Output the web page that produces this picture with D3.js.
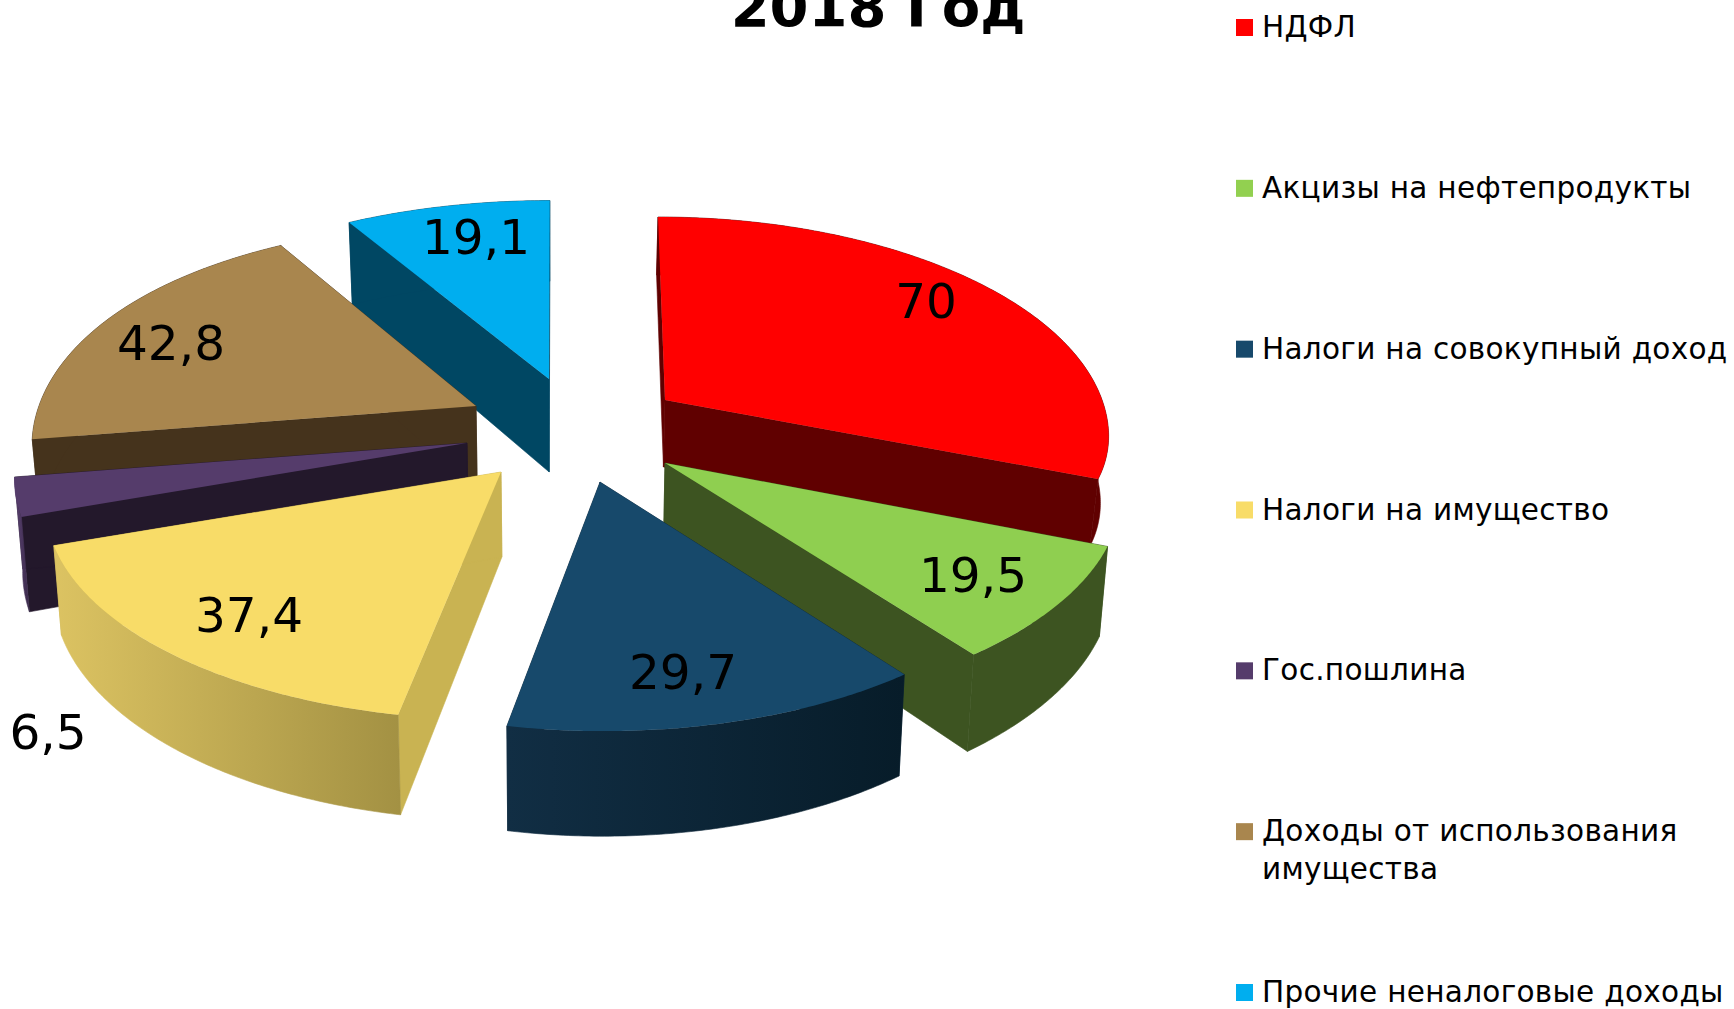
<!DOCTYPE html>
<html><head><meta charset="utf-8">
<style>html,body{margin:0;padding:0;background:#fff;overflow:hidden}svg{display:block}text{font-family:"DejaVu Sans",sans-serif;fill:#000}</style>
<script src="https://cdn.jsdelivr.net/npm/d3@7/dist/d3.min.js"></script>
</head><body>
<svg id="c" width="1734" height="1009"></svg>
<script>
const categories = ["НДФЛ","Акцизы на нефтепродукты","Налоги на совокупный доход","Налоги на имущество","Гос.пошлина","Доходы от использования имущества","Прочие неналоговые доходы"];
const values = [70,19.5,29.7,37.4,6.5,42.8,19.1];
const valueLabels = ["70","19,5","29,7","37,4","6,5","42,8","19,1"];
const titleText = "2018 Год";

// styles
const topColors  = ["#ff0000","#8fcf50","#17496b","#f8dc68","#553c6b","#a9864e","#00aeef"];
const wallColors = ["#600000","#3d5421","#0d2a3e","#c9b352","#23182b","#45331c","#004763"];
const legendColors = ["#ff0000","#92d050","#17496b","#f8dc68","#553c6b","#a9864e","#00aeef"];
const arcGradients = {2:["#112e44","#071c29"], 3:["#dcc362","#a39143"], 4:["#5b4272","#3a2a4a"]};

// layout: exploded apex of every slice, per-slice perspective corrections, and label anchors
const apexX = [665,665,600,501,467,476,549];
const apexY = [400,463,482,472,443,406,379];
const scaleX = [0.98,0.987,0.99,1,1,1,1];
const squeezeX = [0,-0.02,0,-0.007,0,0.02,-0.012];
const scaleY = [1,0.995,1,0.995,1,1,0.975];
const depth = [67,85,89,85,90,85,93];
const backSlice = [true,false,false,false,false,true,false];
const labelX = [926,973,683,249,48,171,476];
const labelY = [301,575,672,615,732,343,237];
const drawOrder = [6,0,5,4,3,1,2];
const R = 446, RY = 211, PERSP = 0.153, VANISH_X = 560, FOCUS = 0.5;

const svg = d3.select("#c");
const defs = svg.append("defs");
Object.entries(arcGradients).forEach(([i,g])=>{
  const lg = defs.append("linearGradient").attr("id","arc"+i).attr("x1",0).attr("x2",1).attr("y1",0).attr("y2",0);
  lg.append("stop").attr("offset",0).attr("stop-color",g[0]);
  lg.append("stop").attr("offset",1).attr("stop-color",g[1]);
});

const pie = d3.pie().sort(null).value(d=>d);
const arcs = pie(values);
const line = d3.line();

function project(i,theta,r,bottom){
  const t = -Math.cos(theta)*r;
  const s = 1/(1-PERSP*t);
  const sy = backSlice[i] ? Math.min(s,1) : s;
  const sn = Math.sin(theta);
  const squeeze = scaleX[i]*(1 - squeezeX[i]*Math.pow(sn,4));
  let x = apexX[i] + R*r*sn*s*squeeze + FOCUS*(apexX[i]-VANISH_X)*(s-1);
  let y = apexY[i] - RY*scaleY[i]*r*Math.cos(theta)*sy;
  if(bottom){
    x += (VANISH_X-x)*0.015;
    y += depth[i]*sy;
  }
  return [x,y];
}
function arcPts(i,d,bottom){
  const n = Math.max(8,Math.ceil((d.endAngle-d.startAngle)/0.01));
  return d3.range(n+1).map(k=>project(i,d.startAngle+(d.endAngle-d.startAngle)*k/n,1,bottom));
}

drawOrder.forEach(i=>{
  const d = arcs[i], g = svg.append("g");
  [d.startAngle,d.endAngle].forEach(a=>{
    g.append("path").attr("fill",wallColors[i]).attr("stroke",wallColors[i]).attr("stroke-width",0.6)
      .attr("d",line([project(i,a,0,false),project(i,a,1,false),project(i,a,1,true),project(i,a,0,true)])+"Z");
  });
  const arcFill = arcGradients[i]?`url(#arc${i})`:wallColors[i];
  g.append("path").attr("fill",arcFill).attr("stroke",arcFill).attr("stroke-width",0.6)
    .attr("d",line(arcPts(i,d,false).concat(arcPts(i,d,true).reverse()))+"Z");
  g.append("path").attr("fill",topColors[i])
    .attr("d",line([project(i,0,0,false)].concat(arcPts(i,d,false)))+"Z");
});

svg.selectAll("text.val").data(valueLabels).join("text").attr("class","val")
  .attr("x",(d,i)=>labelX[i]).attr("y",(d,i)=>labelY[i])
  .attr("text-anchor","middle").attr("dominant-baseline","central")
  .attr("font-size",48.5).text(d=>d);

svg.append("text").attr("x",878).attr("y",26).attr("text-anchor","middle")
  .attr("font-size",56).attr("font-weight","bold").text(titleText);

const legendY = d3.scalePoint().domain(d3.range(categories.length)).range([27.5,992.5]);
const lg = svg.selectAll("g.lg").data(categories).join("g").attr("class","lg")
  .attr("transform",(d,i)=>`translate(1236,${legendY(i)})`);
lg.append("rect").attr("y",-8.5).attr("width",17).attr("height",17).attr("fill",(d,i)=>legendColors[i]);
lg.each(function(d){
  const el = d3.select(this);
  const lines = d==="Доходы от использования имущества" ? ["Доходы от использования","имущества"] : [d];
  lines.forEach((t,k)=>el.append("text").attr("x",26).attr("y",9.5+k*38).attr("font-size",29.5).attr("letter-spacing",0.3).text(t));
});
</script>
</body></html>
